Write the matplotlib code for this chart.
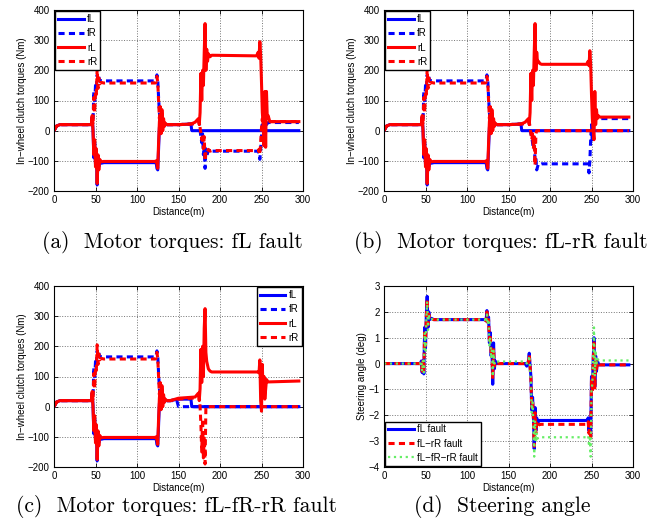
"""In-wheel motor fault study: torques and steering angle, four panels."""
import numpy as np
import matplotlib
matplotlib.use("Agg")
import matplotlib.pyplot as plt

plt.rcParams["font.family"] = ["Liberation Sans", "DejaVu Sans"]
plt.rcParams["axes.unicode_minus"] = True

# ---- shared start of every torque run (distance m, torque Nm) ----
X_HEAD = [0, 3, 7, 45, 46, 47, 48, 49, 50, 51, 52, 53, 54, 55, 57, 60,
          122, 123, 124, 125, 126, 127, 128, 129, 130, 131, 132, 133, 134, 136, 140]
FL_HEAD = [0, 15, 20, 20, 45, 5, -90, -40, -110, -70, -180, -90, -120, -100, -108, -106,
           -106, -104, -125, -130, -60, 10, 30, 0, 50, 10, 30, 18, 22, 20, 20]
FR_HEAD = [0, 15, 20, 20, 40, 30, 130, 90, 150, 140, 185, 170, 180, 165, 166, 165,
           165, 168, 185, 170, 110, 60, 10, 60, 20, 40, 15, 25, 20, 20, 20]
RL_HEAD = [0, 15, 20, 20, 50, 0, -80, -30, -120, -60, -175, -80, -130, -95, -103, -102,
           -102, -100, -110, -125, -40, 30, 50, -10, 70, 0, 40, 15, 25, 20, 20]
RR_HEAD = [0, 15, 20, 20, 50, 20, 110, 60, 130, 120, 205, 140, 175, 155, 160, 158,
           158, 160, 180, 160, 100, 40, 80, 0, 70, 20, 40, 15, 25, 20, 20]

# ---- (a) fL fault ----
A_FL_X = [150, 165, 166, 295]
A_FL_Y = [20, 22, 0, 0]
A_FR_X = [150, 165, 174, 175, 176, 178, 179, 180, 181, 182, 183, 184, 186, 188, 190,
          246, 247, 248, 249, 250, 251, 252, 254, 256, 258, 295]
A_FR_Y = [20, 22, 25, 30, 0, -40, -10, -80, -50, -125, -60, -85, -65, -72, -68,
          -68, -75, -95, -60, -20, 30, 10, 25, 20, 27, 27]
A_RL_X = [150, 165, 170, 174, 175, 176, 177, 178, 179, 180, 181, 182, 183, 184, 185, 186,
          188, 190, 244, 246, 247, 248, 249, 250, 251, 252, 253, 254, 255, 256, 257, 258, 260, 295]
A_RL_Y = [20, 22, 28, 40, 20, 60, 190, 100, 200, 150, 260, 355, 200, 270, 230, 255,
          245, 250, 248, 260, 240, 295, 250, 160, 60, 20, -50, 130, -55, 130, 40, 50, 30, 30]
A_RR_X = [150, 165, 174, 175, 176, 178, 179, 180, 181, 182, 183, 184, 186, 188, 190,
          246, 247, 248, 249, 250, 251, 252, 254, 256, 258, 295]
A_RR_Y = [20, 22, 25, 35, 10, -30, -10, -60, -20, -100, -70, -75, -62, -68, -66,
          -66, -62, -80, -40, 10, 40, 20, 35, 25, 30, 30]

# ---- (b) fL-rR fault ----
B_FL_X = [150, 165, 166, 295]
B_FL_Y = [20, 22, 0, 0]
B_FR_X = [150, 165, 174, 175, 176, 178, 179, 180, 181, 182, 183, 184, 186, 188, 190,
          246, 247, 248, 249, 250, 251, 252, 254, 256, 295]
B_FR_Y = [20, 22, 25, 30, 0, -20, -40, -60, -50, -100, -90, -130, -110, -112, -110,
          -110, -140, -100, -30, 20, -40, 40, 35, 40, 40]
B_RL_X = A_RL_X
B_RL_Y = [20, 22, 28, 40, 20, 60, 190, 100, 200, 150, 260, 355, 200, 260, 225, 230,
          222, 220, 220, 230, 215, 265, 220, 120, 40, 0, -30, 130, 20, 70, 40, 50, 45, 45]
B_RR_X = [150, 165, 174, 175, 176, 178, 179, 180, 181, 182, 183, 184, 295]
B_RR_Y = [20, 22, 25, 30, 10, -30, -10, -60, -20, -115, -10, 0, 0]

# ---- (c) fL-fR-rR fault ----
C_FL_X = [150, 165, 166, 295]
C_FL_Y = [25, 25, 0, 0]
C_FR_X = [148, 150, 295]
C_FR_Y = [20, 0, 0]
C_RL_X = [150, 160, 170, 174, 175, 176, 177, 178, 179, 180, 181, 182, 183, 184, 186, 188,
          190, 246, 247, 248, 249, 250, 251, 252, 253, 254, 256, 258, 295]
C_RL_Y = [28, 30, 32, 45, 20, 60, 190, 80, 200, 100, 260, 325, 180, 150, 125, 118,
          115, 115, 112, 155, 20, -15, 140, 30, 100, 25, 90, 82, 85]
C_RR_X = [150, 165, 174, 175, 176, 177, 178, 179, 180, 181, 182, 183, 184, 295]
C_RR_Y = [25, 28, 30, 35, 0, -60, -150, -40, -170, -100, -190, 0, 0, 0]

# ---- (d) steering angle (deg) ----
STEER_X = [0, 44, 45, 46, 47, 48, 49, 50, 51, 52, 53, 54, 55, 57, 60,
           122, 123, 124, 125, 126, 127, 128, 129, 130, 131, 132, 133, 134, 136,
           170, 172, 174, 175, 176, 177, 178, 179, 180, 181, 182, 183, 184, 185, 187, 190,
           245, 246, 247, 248, 249, 250, 251, 252, 253, 254, 255, 256, 257, 259, 262, 295]
STEER_FL = [0, 0, 0.1, -0.35, 0.1, -0.4, 1.4, 0.6, 1.9, 2.6, 1.4, 2.0, 1.7, 1.75, 1.7,
            1.7, 1.65, 2.05, 1.6, 1.8, 0.8, 1.2, 0.3, 0.6, -0.8, 0.8, -0.2, 0.1, 0,
            0, -0.1, 0.1, 0.4, -0.1, -0.5, -1.8, -1.3, -2.0, -3.3, -1.7, -2.6, -2.1, -2.3, -2.2, -2.2,
            -2.2, -2.1, -2.6, -2.2, -2.8, -0.5, -1.0, 0.1, 1.0, -0.9, 0.3, -0.3, 0.1, -0.05, -0.05, -0.05]
STEER_FLRR = [0, 0, 0.05, -0.3, 0.1, -0.35, 1.3, 0.7, 1.8, 2.5, 1.5, 1.9, 1.7, 1.72, 1.7,
              1.7, 1.65, 2.0, 1.6, 1.7, 0.9, 1.1, 0.4, 0.5, -0.6, 0.6, -0.1, 0.05, 0,
              0, -0.05, 0.05, 0.35, -0.1, -0.6, -1.7, -1.4, -2.1, -3.2, -1.9, -2.7, -2.3, -2.45, -2.35, -2.35,
              -2.35, -2.25, -2.7, -2.3, -2.95, -0.6, -1.1, 0.0, 0.9, -1.0, 0.25, -0.25, 0.05, -0.05, -0.05, -0.05]
STEER_FLFRRR = [0, 0, 0.1, -0.3, 0.1, -0.35, 1.2, 0.5, 1.7, 2.4, 1.3, 1.9, 1.7, 1.72, 1.7,
                1.7, 1.6, 1.9, 1.5, 1.7, 0.7, 1.0, 0.2, 0.5, -0.5, 0.5, 0.0, 0.1, 0.08,
                0.08, 0.0, 0.1, 0.3, -0.2, -0.7, -1.9, -1.5, -2.4, -3.6, -2.2, -3.0, -2.7, -2.9, -2.85, -2.85,
                -2.85, -2.8, -3.2, -2.9, -3.6, -1.0, -0.8, 0.3, 1.4, -0.5, 0.5, 0.0, 0.2, 0.12, 0.12, 0.12]

CAPTIONS = ["(a)  Motor torques: fL fault", "(b)  Motor torques: fL-rR fault",
            "(c)  Motor torques: fL-fR-rR fault", "(d)  Steering angle"]

LW = 2.2
DASH = (0, (2.0, 1.4))
BLUE, RED, GREEN = "#0000ff", "#ff0000", "#66ee66"


def style_axes(ax, ylim, yticks, ylabel):
    ax.set_xlim(0, 300)
    ax.set_ylim(*ylim)
    ax.set_xticks(np.arange(0, 301, 50))
    ax.set_yticks(yticks)
    ax.grid(True, linestyle=":", color="0.45", linewidth=0.7)
    ax.tick_params(direction="in", top=True, right=True, length=3, width=0.6,
                   labelsize=7, pad=3)
    for s in ax.spines.values():
        s.set_linewidth(0.8)
    ax.set_xlabel("Distance(m)", fontsize=7, labelpad=1)
    ax.set_ylabel(ylabel, fontsize=7, labelpad=1)


def add_legend(ax, loc):
    leg = ax.legend(loc=loc, fontsize=7, handlelength=2.6, handletextpad=0.35,
                    labelspacing=0.42, borderpad=0.3, borderaxespad=0.15,
                    fancybox=False, framealpha=1, edgecolor="black")
    leg.get_frame().set_linewidth(1.0)


def torque_panel(ax, fl, fr, rl, rr, loc):
    ax.plot(X_HEAD + fl[0], FL_HEAD + fl[1], color=BLUE, lw=LW, label="fL")
    ax.plot(X_HEAD + fr[0], FR_HEAD + fr[1], color=BLUE, lw=LW, ls=DASH, label="fR")
    ax.plot(X_HEAD + rl[0], RL_HEAD + rl[1], color=RED, lw=LW, label="rL")
    ax.plot(X_HEAD + rr[0], RR_HEAD + rr[1], color=RED, lw=LW, ls=DASH, label="rR")
    style_axes(ax, (-200, 400), np.arange(-200, 401, 100), "In\u2212wheel clutch torques (Nm)")
    add_legend(ax, loc)


def main():
    fig = plt.figure(figsize=(6.62, 5.28), dpi=100)
    W, H = 662, 528
    boxes = [(54, 10), (384, 10), (54, 286), (384, 286)]
    axes = [fig.add_axes([x / W, 1 - (y + 181) / H, 249 / W, 181 / H]) for x, y in boxes]

    torque_panel(axes[0], (A_FL_X, A_FL_Y), (A_FR_X, A_FR_Y), (A_RL_X, A_RL_Y), (A_RR_X, A_RR_Y), "upper left")
    torque_panel(axes[1], (B_FL_X, B_FL_Y), (B_FR_X, B_FR_Y), (B_RL_X, B_RL_Y), (B_RR_X, B_RR_Y), "upper left")
    torque_panel(axes[2], (C_FL_X, C_FL_Y), (C_FR_X, C_FR_Y), (C_RL_X, C_RL_Y), (C_RR_X, C_RR_Y), "upper right")

    ax = axes[3]
    ax.plot(STEER_X, STEER_FL, color=BLUE, lw=LW, label="fL fault")
    ax.plot(STEER_X, STEER_FLRR, color=RED, lw=LW, ls=DASH, label="fL\u2212rR fault")
    ax.plot(STEER_X, STEER_FLFRRR, color=GREEN, lw=1.6, ls=":", label="fL\u2212fR\u2212rR fault")
    style_axes(ax, (-4, 3), np.arange(-4, 4, 1), "Steering angle (deg)")
    add_legend(ax, "lower left")

    cap_pos = [(172, 248), (501, 248), (177, 512), (502, 512)]
    for (cx, cy), txt in zip(cap_pos, CAPTIONS):
        fig.text(cx / W, 1 - cy / H, txt, family="cmr10", fontsize=15.5,
                 ha="center", va="baseline")

    fig.savefig("out.png", dpi=100)


if __name__ == "__main__":
    main()
